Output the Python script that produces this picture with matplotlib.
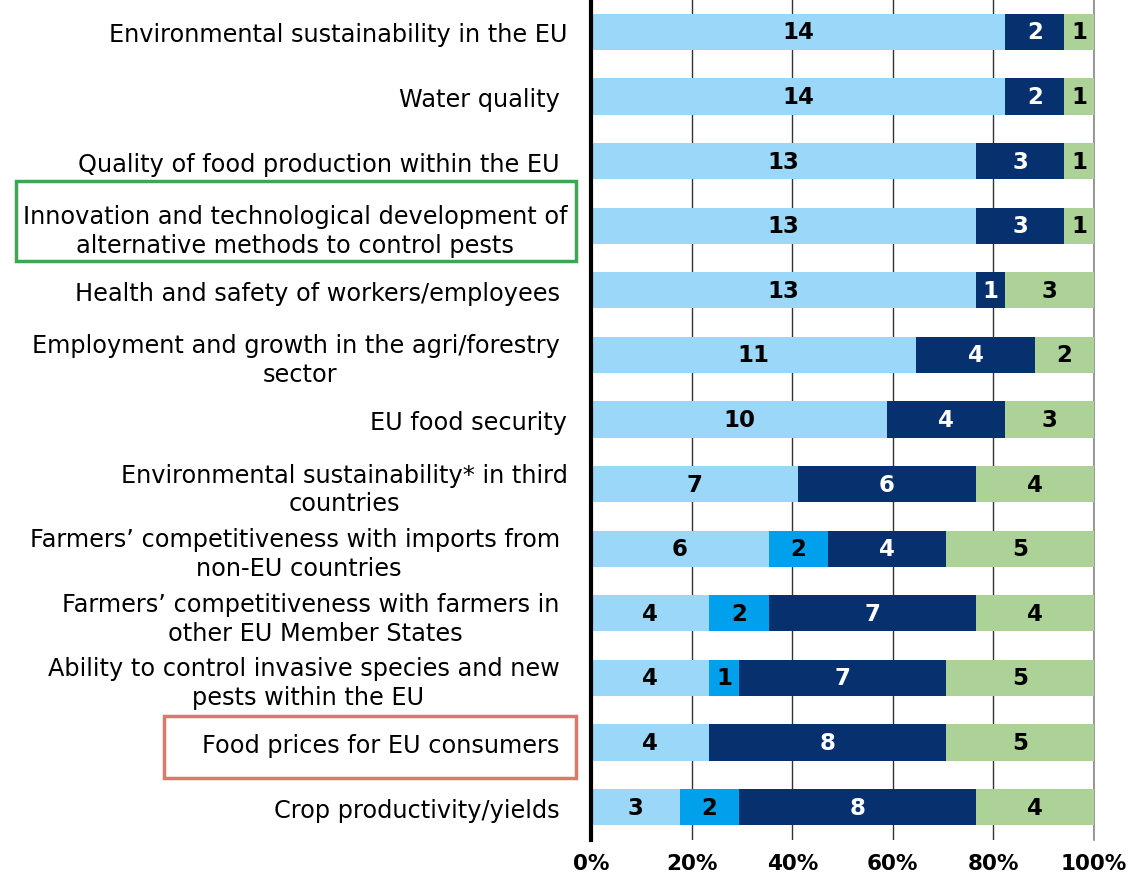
import matplotlib
matplotlib.use("Agg")
import matplotlib.pyplot as plt
from matplotlib.patches import Rectangle
import numpy as np

plt.rcParams['font.family'] = ['DejaVu Sans']

categories = [
    "Environmental sustainability in the EU",
    "Water quality ",
    "Quality of food production within the EU ",
    "Innovation and technological development of\nalternative methods to control pests",
    "Health and safety of workers/employees ",
    "Employment and growth in the agri/forestry \nsector",
    "EU food security",
    "Environmental sustainability* in third\ncountries",
    "Farmers\u2019 competitiveness with imports from \nnon-EU countries",
    "Farmers\u2019 competitiveness with farmers in \nother EU Member States",
    "Ability to control invasive species and new \npests within the EU",
    "Food prices for EU consumers ",
    "Crop productivity/yields ",
]
s_light = [14, 14, 13, 13, 13, 11, 10, 7, 6, 4, 4, 4, 3]
s_mid   = [0, 0, 0, 0, 0, 0, 0, 0, 2, 2, 1, 0, 2]
s_navy  = [2, 2, 3, 3, 1, 4, 4, 6, 4, 7, 7, 8, 8]
s_green = [1, 1, 1, 1, 3, 2, 3, 4, 5, 4, 5, 5, 4]
xticklabels = ["0%", "20%", "40%", "60%", "80%", "100%"]

series = [s_light, s_mid, s_navy, s_green]
colors = ["#9BD7F8", "#00A0EC", "#06306E", "#ADD297"]
txtcolors = ["black", "black", "white", "black"]

W, H = 1147, 878
fig = plt.figure(figsize=(W / 100, H / 100), dpi=100)
top_px, bot_px = 0.5, 840.5
ax = fig.add_axes([591 / W, 1 - bot_px / H, (1094 - 591) / W, (bot_px - top_px) / H])

n = len(categories)
y = np.arange(n)
data = np.array(series, dtype=float)
totals = data.sum(axis=0)
pct = data / totals * 100
left = np.zeros(n)
for k in range(4):
    ax.barh(y, pct[k], left=left, height=0.56, color=colors[k], zorder=3, linewidth=0)
    for i in range(n):
        v = series[k][i]
        if v > 0:
            ax.text(left[i] + pct[k][i] / 2, y[i], str(v), ha="center", va="center",
                    color=txtcolors[k], fontsize=16.5, fontweight="bold", zorder=4)
    left += pct[k]

ax.set_ylim(n - 0.5, -0.5)
ax.set_xlim(0, 100)
ax.set_xticks([0, 20, 40, 60, 80, 100])
ax.set_xticklabels(xticklabels, fontsize=15.5, fontweight="bold")
ax.tick_params(axis="x", length=0, pad=10)
ax.grid(axis="x", color="#333333", linewidth=1.0, zorder=0)
ax.axvline(100, color="#888888", linewidth=1.2, zorder=2, clip_on=False)
ax.set_yticks(y)
ax.set_yticklabels(categories, fontsize=17.3, linespacing=1.25)
for lab in ax.get_yticklabels():
    lab.set_multialignment("center")
ax.tick_params(axis="y", length=0, pad=17)
for s in ["top", "right", "bottom"]:
    ax.spines[s].set_visible(False)
ax.spines["left"].set_linewidth(3)
ax.spines["left"].set_color("black")
ax.spines["left"].set_zorder(5)

def fig_rect(x0, y0, x1, y1, color):
    r = Rectangle((x0 / W, 1 - y1 / H), (x1 - x0) / W, (y1 - y0) / H,
                  transform=fig.transFigure, fill=False, edgecolor=color,
                  linewidth=2.5, zorder=10)
    fig.patches.append(r)

fig_rect(16, 182, 576, 262, "#3EA651")
fig_rect(164, 717, 576, 779, "#DB7A68")

fig.savefig("out.png", dpi=100)
